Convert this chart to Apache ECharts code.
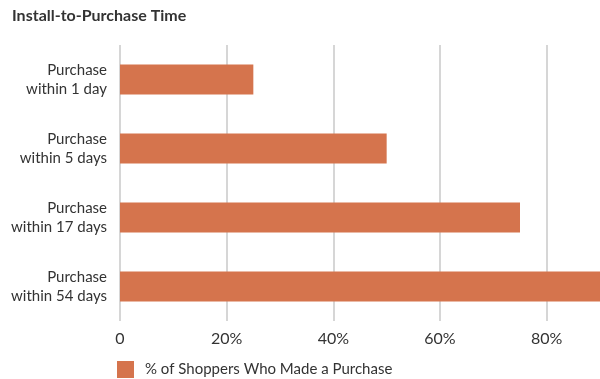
<!DOCTYPE html>
<html>
<head>
<meta charset="utf-8">
<script src="https://cdn.jsdelivr.net/npm/echarts@6/dist/echarts.min.js"></script>
<style>html,body{margin:0;padding:0;background:#fff;}#c{width:600px;height:379px;}</style>
</head>
<body>
<div id="c"></div>
<script>
const categories = ["Purchase\nwithin 1 day", "Purchase\nwithin 5 days", "Purchase\nwithin 17 days", "Purchase\nwithin 54 days"];
const values = [25, 50, 75, 100];
const seriesName = "% of Shoppers Who Made a Purchase";
const titleText = "Install-to-Purchase Time";

const chart = echarts.init(document.getElementById('c'));
const font = "Lato";
chart.setOption({
  backgroundColor: '#fff',
  animation: false,
  title: {
    text: titleText, left: 12, top: 8, padding: 0,
    textStyle: {fontFamily: font, fontSize: 16, fontWeight: 'bold', color: '#333'}
  },
  legend: {
    data: [seriesName], left: 117, top: 361, icon: 'rect', padding: 0,
    itemWidth: 17, itemHeight: 17, itemGap: 10,
    textStyle: {fontFamily: font, fontSize: 15, color: '#333', padding: [0, 0, 0, 6]}
  },
  grid: {left: 120, right: 0, top: 45, bottom: 58, containLabel: false},
  xAxis: {
    type: 'value', min: 0, max: 90, interval: 20,
    axisLine: {show: false}, axisTick: {show: false},
    splitLine: {show: true, showMaxLine: false, lineStyle: {color: '#c8c8c8', width: 1.5}},
    axisLabel: {
      showMaxLabel: false, margin: 10,
      fontFamily: font, fontSize: 16, color: '#333',
      formatter: v => v === 0 ? '0' : v + '%'
    }
  },
  yAxis: {
    type: 'category', data: categories, inverse: true,
    axisLine: {show: false}, axisTick: {show: false},
    axisLabel: {fontFamily: font, fontSize: 15, color: '#333', lineHeight: 19, margin: 13, align: 'right'}
  },
  series: [{
    name: seriesName, type: 'bar', data: values, barWidth: 30,
    itemStyle: {color: '#d5744d'}
  }]
});
</script>
</body>
</html>
